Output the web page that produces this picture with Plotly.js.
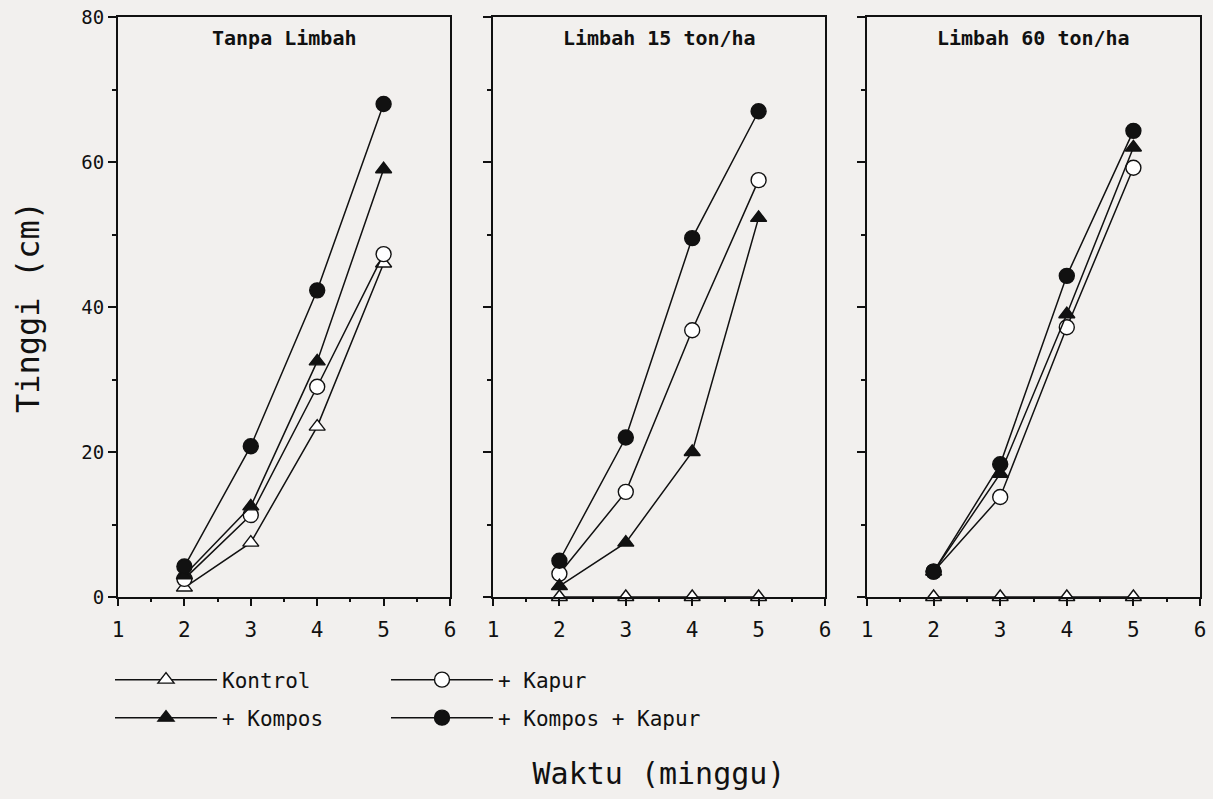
<!DOCTYPE html>
<html><head><meta charset="utf-8">
<script src="https://cdn.plot.ly/plotly-3.0.1.min.js"></script>
<style>body{margin:0;background:#f2f0ee}</style>
</head><body><div id="chart" style="width:1213px;height:799px"></div>
<script>
const weeks = [2, 3, 4, 5];
const panelTitles = ["Tanpa Limbah", "Limbah 15 ton/ha", "Limbah 60 ton/ha"];
const seriesNames = ["Kontrol", "+ Kapur", "+ Kompos", "+ Kompos + Kapur"];
// Tinggi (cm) per panel
const kontrol     = [[1.3, 7.5, 23.5, 46], [0, 0, 0, 0], [0, 0, 0, 0]];
const kapur       = [[2.5, 11.3, 29, 47.3], [3.2, 14.5, 36.8, 57.5], [3.5, 13.8, 37.2, 59.2]];
const kompos      = [[3, 12.5, 32.5, 59], [1.5, 7.5, 20, 52.3], [3.5, 17, 39, 62]];
const komposKapur = [[4.2, 20.8, 42.3, 68], [5, 22, 49.5, 67], [3.5, 18.3, 44.3, 64.3]];
const xTicks = [1, 2, 3, 4, 5, 6];
const yTicks = [0, 20, 40, 60, 80];

const FONT = "DejaVu Sans Mono, monospace";
const styles = {
  "Kontrol": {symbol: "triangle-up", fill: "#ffffff", data: kontrol, legend: "legend"},
  "+ Kapur": {symbol: "circle", fill: "#ffffff", data: kapur, legend: "legend3"},
  "+ Kompos": {symbol: "triangle-up", fill: "#111111", data: kompos, legend: "legend2"},
  "+ Kompos + Kapur": {symbol: "circle", fill: "#111111", data: komposKapur, legend: "legend4"}
};
const traces = [];
for (let p = 0; p < 3; p++) {
  const ax = p === 0 ? "" : String(p + 1);
  seriesNames.forEach(name => {
    const s = styles[name];
    traces.push({
      x: weeks, y: s.data[p], type: "scatter", mode: "lines+markers",
      name: name, legend: s.legend, showlegend: p === 0,
      xaxis: "x" + ax, yaxis: "y" + ax, cliponaxis: false,
      line: {color: "#111", width: 1.5},
      marker: {symbol: s.symbol, size: s.symbol === "circle" ? 15 : 14, color: s.fill, line: {color: "#111", width: 1.4}}
    });
  });
}
const doms = [[118/1213, 450/1213], [493/1213, 825/1213], [867/1213, 1200/1213]];
const yd = [1 - 597/799, 1 - 17/799];
const legendCommon = {orientation: "h", xanchor: "left", yanchor: "middle",
  itemwidth: 102, bgcolor: "rgba(0,0,0,0)",
  font: {family: FONT, size: 21, color: "#111"}};
const col1 = 110 / 1213, col2 = 386 / 1213, row1 = 1 - 680 / 799, row2 = 1 - 718 / 799;
const layout = {
  width: 1213, height: 799,
  paper_bgcolor: "#f2f0ee", plot_bgcolor: "#f2f0ee",
  margin: {l: 0, r: 0, t: 0, b: 0},
  font: {family: FONT, color: "#111", size: 15},
  annotations: [],
  legend: Object.assign({x: col1, y: row1}, legendCommon),
  legend2: Object.assign({x: col1, y: row2}, legendCommon),
  legend3: Object.assign({x: col2, y: row1}, legendCommon),
  legend4: Object.assign({x: col2, y: row2}, legendCommon)
};
for (let p = 0; p < 3; p++) {
  const ax = p === 0 ? "" : String(p + 1);
  layout["xaxis" + ax] = {
    domain: doms[p], range: [1, 6], tickvals: xTicks, ticktext: xTicks.map(String),
    showgrid: false, zeroline: false, showline: true, linecolor: "#111", linewidth: 2, mirror: true,
    ticks: "outside", ticklen: 7, tickwidth: 2, tickcolor: "#111", ticklabelstandoff: 6,
    minor: {dtick: 0.5, tick0: 1, ticks: "outside", ticklen: 3, tickwidth: 2, tickcolor: "#111", showgrid: false},
    tickfont: {family: FONT, size: 21, color: "#111"}, anchor: "y" + ax, fixedrange: true,
    title: p === 1 ? {text: "Waktu (minggu)", font: {family: FONT, size: 30, color: "#111"}, standoff: 122} : {text: ""}
  };
  layout["yaxis" + ax] = {
    domain: yd, range: [0, 80], tickvals: yTicks, showticklabels: p === 0,
    showgrid: false, zeroline: false, showline: true, linecolor: "#111", linewidth: 2, mirror: true,
    ticks: "outside", ticklen: 8, tickwidth: 2, tickcolor: "#111",
    minor: {dtick: 10, ticks: "outside", ticklen: 4, tickwidth: 2, tickcolor: "#111", showgrid: false},
    tickfont: {family: FONT, size: 19, color: "#111"}, anchor: "x" + ax, fixedrange: true,
    title: p === 0 ? {text: "Tinggi (cm)", font: {family: FONT, size: 32, color: "#111"}, standoff: 32} : {text: ""}
  };
  layout.annotations.push({
    text: "<b>" + panelTitles[p] + "</b>", xref: "x" + ax + " domain", yref: "y" + ax + " domain",
    x: 0.5, y: 0.963, xanchor: "center", yanchor: "middle", showarrow: false,
    font: {family: FONT, size: 20, color: "#111"}
  });
}
Plotly.newPlot("chart", traces, layout, {displayModeBar: false, staticPlot: true});
</script></body></html>
